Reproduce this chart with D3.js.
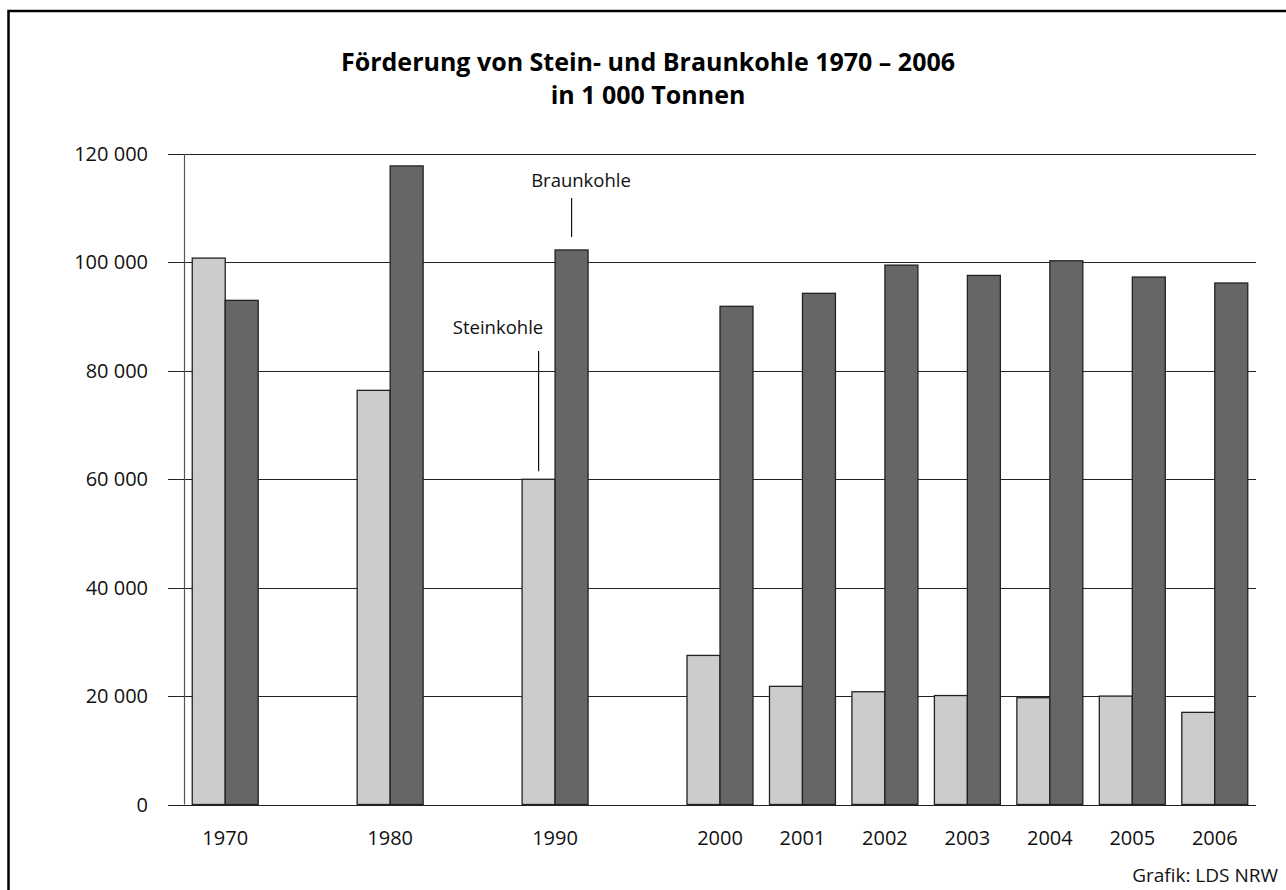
<!DOCTYPE html>
<html>
<head>
<meta charset="utf-8">
<script src="https://cdn.jsdelivr.net/npm/d3@7"></script>
<style>
  body { margin: 0; background: #fff; }
  svg { display: block; font-family: "Open Sans", "Noto Sans", sans-serif; }
</style>
</head>
<body>
<svg id="chart" width="1286" height="890"></svg>
<script>
// data, in 1 000 t
var years = [1970, 1980, 1990, 2000, 2001, 2002, 2003, 2004, 2005, 2006];
var steinkohle = [100800, 76400, 60000, 27500, 21800, 20800, 20100, 19700, 20000, 17000];
var braunkohle = [93000, 117800, 102300, 91900, 94300, 99500, 97600, 100300, 97300, 96200];
var yTicks = [0, 20000, 40000, 60000, 80000, 100000, 120000];

var svg = d3.select("#chart");

// frame (right/bottom edges fall outside the picture)
svg.append("rect")
  .attr("x", 8.5).attr("y", 11)
  .attr("width", 1300).attr("height", 900)
  .attr("fill", "none").attr("stroke", "#000").attr("stroke-width", 2.5);

var plotLeft = 184, plotRight = 1256, plotTop = 154, plotBottom = 804.5;
var slot = (plotRight - plotLeft) / 13;   // decades take 2 slots each, 2000..2006 one

// piecewise scale: decades stretched to the same step as single years
var x = d3.scaleLinear()
  .domain([1970, 2000, 2006])
  .range([plotLeft + slot / 2, plotLeft + slot * 6.5, plotLeft + slot * 12.5]);

var y = d3.scaleLinear().domain([0, 120000]).range([plotBottom, plotTop]);

var barW = slot * 0.4;

// gridlines + ticks
svg.append("g").selectAll("line")
  .data(yTicks)
  .enter().append("line")
  .attr("x1", 168).attr("x2", plotRight)
  .attr("y1", d => Math.round(y(d)) + 0.5)
  .attr("y2", d => Math.round(y(d)) + 0.5)
  .attr("stroke", "#222").attr("stroke-width", 1.2);

svg.append("line")
  .attr("x1", plotLeft + 0.5).attr("x2", plotLeft + 0.5)
  .attr("y1", plotTop).attr("y2", plotBottom)
  .attr("stroke", "#555").attr("stroke-width", 1.2);

var fmt = d => d3.format(",")(d).replace(/,/g, " ");

svg.append("g").selectAll("text")
  .data(yTicks)
  .enter().append("text")
  .attr("x", 148)
  .attr("y", d => y(d) + 7)
  .attr("text-anchor", "end")
  .attr("font-size", 20)
  .attr("fill", "#111")
  .text(fmt);

// bars
var bars = svg.append("g");
bars.selectAll("rect.stein")
  .data(years)
  .enter().append("rect")
  .attr("class", "stein")
  .attr("x", d => x(d) - barW)
  .attr("width", barW)
  .attr("y", (d, i) => y(steinkohle[i]))
  .attr("height", (d, i) => y(0) - y(steinkohle[i]))
  .attr("fill", "#cccccc")
  .attr("stroke", "#222").attr("stroke-width", 1.3);

bars.selectAll("rect.braun")
  .data(years)
  .enter().append("rect")
  .attr("class", "braun")
  .attr("x", d => x(d))
  .attr("width", barW)
  .attr("y", (d, i) => y(braunkohle[i]))
  .attr("height", (d, i) => y(0) - y(braunkohle[i]))
  .attr("fill", "#666666")
  .attr("stroke", "#222").attr("stroke-width", 1.3);

// year labels
svg.append("g").selectAll("text")
  .data(years)
  .enter().append("text")
  .attr("x", d => x(d))
  .attr("y", 845)
  .attr("text-anchor", "middle")
  .attr("font-size", 20)
  .attr("fill", "#111")
  .text(d => d);

// annotations at 1990
var i90 = years.indexOf(1990);
var bx = x(1990) + barW / 2, sx = x(1990) - barW / 2;
svg.append("line")
  .attr("x1", bx).attr("x2", bx)
  .attr("y1", 198).attr("y2", y(braunkohle[i90]) - 13)
  .attr("stroke", "#111").attr("stroke-width", 1.2);
svg.append("text")
  .attr("x", 581).attr("y", 187)
  .attr("text-anchor", "middle")
  .attr("font-size", 18.5).attr("fill", "#111")
  .text("Braunkohle");

svg.append("line")
  .attr("x1", sx).attr("x2", sx)
  .attr("y1", 351).attr("y2", y(steinkohle[i90]) - 8)
  .attr("stroke", "#111").attr("stroke-width", 1.2);
svg.append("text")
  .attr("x", 498).attr("y", 334)
  .attr("text-anchor", "middle")
  .attr("font-size", 18.5).attr("fill", "#111")
  .text("Steinkohle");

// title
svg.append("text")
  .attr("x", 648).attr("y", 71)
  .attr("text-anchor", "middle")
  .attr("font-size", 25).attr("font-weight", "bold")
  .text("Förderung von Stein- und Braunkohle 1970 – 2006");
svg.append("text")
  .attr("x", 648).attr("y", 104)
  .attr("text-anchor", "middle")
  .attr("font-size", 25).attr("font-weight", "bold")
  .text("in 1 000 Tonnen");

// source
svg.append("text")
  .attr("x", 1278).attr("y", 882)
  .attr("text-anchor", "end")
  .attr("font-size", 19).attr("fill", "#111")
  .text("Grafik: LDS NRW");
</script>
</body>
</html>
